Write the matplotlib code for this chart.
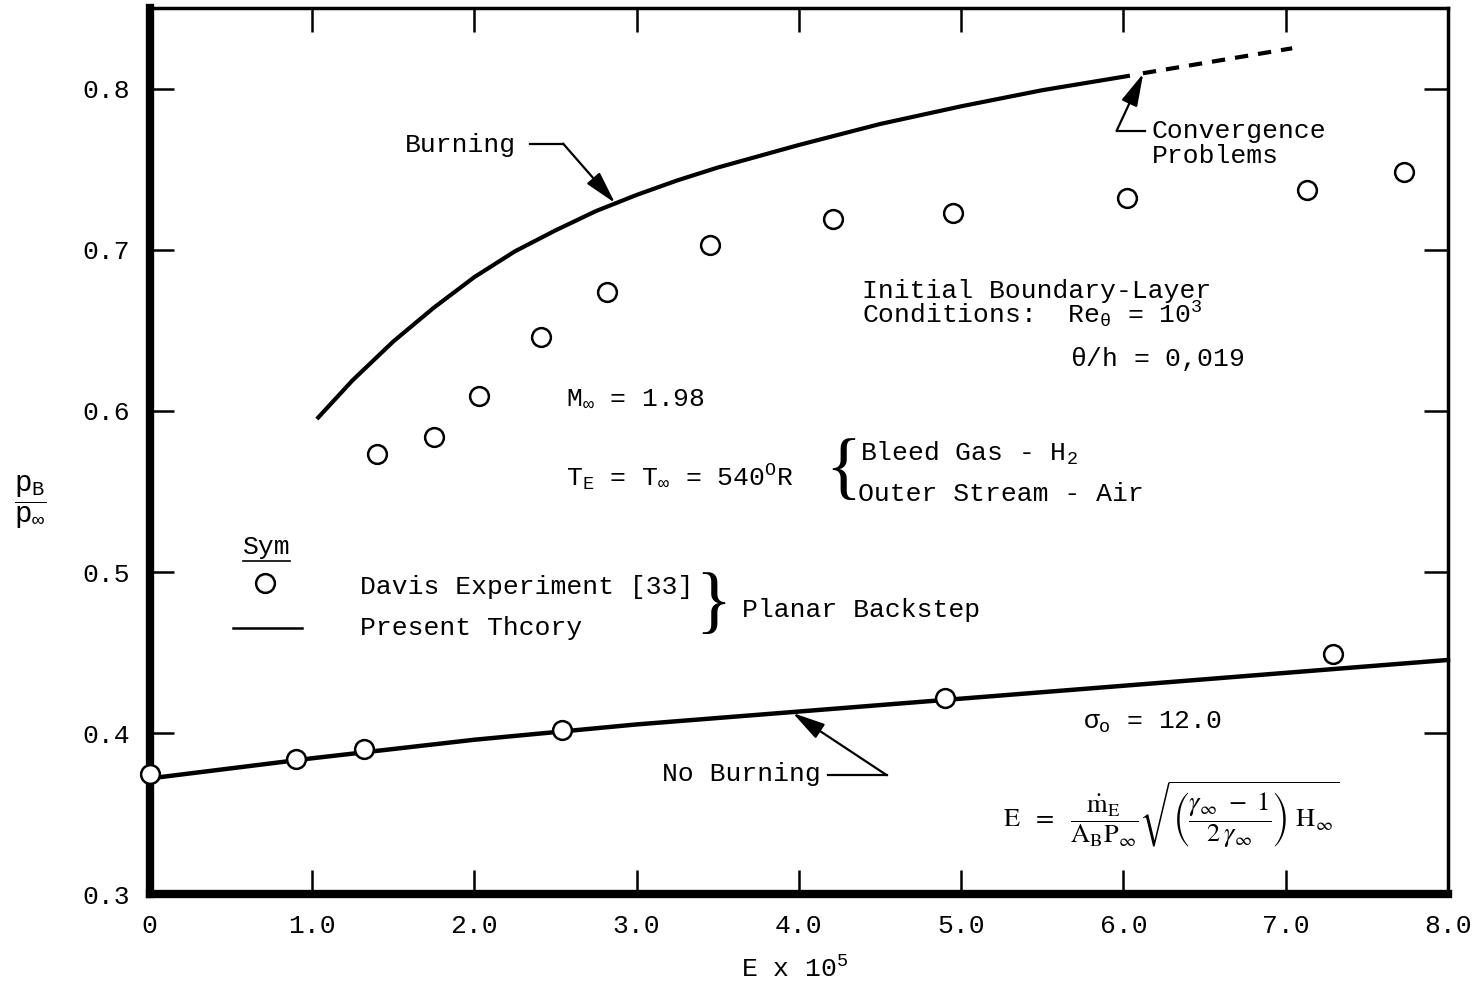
import matplotlib
matplotlib.use("Agg")
import matplotlib.pyplot as plt

# typewriter look everywhere
plt.rcParams['font.family'] = ['Liberation Mono', 'DejaVu Sans Mono']
plt.rcParams['mathtext.fontset'] = 'custom'
plt.rcParams['mathtext.rm'] = 'Liberation Mono'
plt.rcParams['mathtext.it'] = 'Liberation Mono'
plt.rcParams['mathtext.bf'] = 'Liberation Mono:bold'

# ---- data ----
# present theory, burning (solid part, then dashed where convergence failed)
burn_x = [1.03, 1.25, 1.5, 1.75, 2.0, 2.25, 2.5, 2.75, 3.0, 3.25, 3.5, 3.75, 4.0, 4.5, 5.0, 5.5, 6.04]
burn_y = [0.595, 0.619, 0.643, 0.664, 0.683, 0.699, 0.712, 0.724, 0.734, 0.743, 0.751, 0.758,
          0.765, 0.778, 0.789, 0.799, 0.808]
burn_dash_x = [6.12, 7.04]
burn_dash_y = [0.8095, 0.825]

# present theory, no burning
noburn_x = [0, 1, 2, 3, 4, 5, 6, 7, 8]
noburn_y = [0.372, 0.3845, 0.396, 0.4055, 0.4135, 0.4215, 0.4295, 0.4375, 0.4455]

# Davis experiment [33]
exp_burn_x = [1.40, 1.75, 2.03, 2.41, 2.82, 3.45, 4.21, 4.95, 6.02, 7.13, 7.73]
exp_burn_y = [0.573, 0.584, 0.609, 0.646, 0.674, 0.703, 0.719, 0.723, 0.732, 0.737, 0.748]
exp_noburn_x = [0.0, 0.90, 1.32, 2.54, 4.90, 7.29]
exp_noburn_y = [0.375, 0.384, 0.390, 0.402, 0.422, 0.4495]

x_ticks = [0, 1, 2, 3, 4, 5, 6, 7, 8]
x_labels = ['0', '1.0', '2.0', '3.0', '4.0', '5.0', '6.0', '7.0', '8.0']
y_ticks = [0.3, 0.4, 0.5, 0.6, 0.7, 0.8]
y_labels = ['0.3', '0.4', '0.5', '0.6', '0.7', '0.8']

FS = 19

fig = plt.figure(figsize=(14.75, 9.85), dpi=100)
ax = fig.add_axes([0.1015, 0.0919, 0.8802, 0.9000])

ax.plot(burn_x, burn_y, color='k', lw=3.0, solid_capstyle='butt', solid_joinstyle='round')
ax.plot(burn_dash_x, burn_dash_y, color='k', lw=3.0, linestyle=(0, (3.2, 2.4)))
ax.plot(noburn_x, noburn_y, color='k', lw=3.2, clip_on=False)

mk = dict(linestyle='none', marker='o', markersize=13.5, markerfacecolor='white',
          markeredgecolor='k', markeredgewidth=1.8, clip_on=False, zorder=5)
ax.plot(exp_burn_x, exp_burn_y, **mk)
ax.plot(exp_noburn_x, exp_noburn_y, **mk)

ax.set_xlim(0, 8)
ax.set_ylim(0.3, 0.85)
ax.set_xticks(x_ticks)
ax.set_xticklabels(x_labels)
ax.set_yticks(y_ticks)
ax.set_yticklabels(y_labels)
ax.tick_params(direction='in', length=17, width=1.8, top=True, right=True,
               labelsize=FS, pad=14)

ax.spines['left'].set_linewidth(6)
ax.spines['bottom'].set_linewidth(6)
ax.spines['top'].set_linewidth(2.5)
ax.spines['right'].set_linewidth(2.5)

# axis labels
fig.text(0.0203, 0.4904, r'$\dfrac{\mathrm{p}_\mathrm{B}}{\mathrm{p}_\infty}$',
         fontsize=21, ha='center', va='center')
fig.text(0.539, 0.008, r'E x 10$^5$', fontsize=FS, ha='center', va='baseline')

# leader lines with arrowheads
arrow = dict(arrowstyle='-|>,head_length=1.0,head_width=0.26', color='k', lw=1.6,
             mutation_scale=20, shrinkA=0, shrinkB=0)
ax.text(1.573, 0.7604, 'Burning', fontsize=FS, ha='left', va='baseline')
ax.plot([2.343, 2.547], [0.7659, 0.7659], color='k', lw=1.6)
ax.annotate('', xy=(2.867, 0.729), xytext=(2.547, 0.7659), arrowprops=arrow)

ax.text(6.176, 0.7693, 'Convergence', fontsize=FS, ha='left', va='baseline')
ax.text(6.176, 0.7538, 'Problems', fontsize=FS, ha='left', va='baseline')
ax.plot([5.958, 6.133], [0.7738, 0.7738], color='k', lw=1.6)
ax.annotate('', xy=(6.122, 0.8093), xytext=(5.958, 0.7738), arrowprops=arrow)

ax.text(3.156, 0.3703, 'No Burning', fontsize=FS, ha='left', va='baseline')
ax.plot([4.18, 4.542], [0.374, 0.374], color='k', lw=1.6)
ax.annotate('', xy=(3.962, 0.4126), xytext=(4.542, 0.374), arrowprops=arrow)

# conditions
ax.text(4.389, 0.670, 'Initial Boundary-Layer', fontsize=FS, va='baseline')
ax.text(4.389, 0.6539, r'Conditions:  Re$_\theta$ = 10$^3$', fontsize=FS, va='baseline')
ax.text(5.670, 0.628, r'$\theta$/h = 0,019', fontsize=FS, va='baseline')
ax.text(2.565, 0.6037, r'M$_\infty$ = 1.98', fontsize=FS, va='baseline')
ax.text(2.565, 0.5529, r'T$_\mathrm{E}$ = T$_\infty$ = 540$^\mathrm{O}$R', fontsize=FS, va='baseline')
ax.text(4.275, 0.5622, '{', fontsize=54, family='Liberation Serif', ha='center', va='center')
ax.text(4.377, 0.5690, r'Bleed Gas - H$_2$', fontsize=FS, va='baseline')
ax.text(4.364, 0.5442, 'Outer Stream - Air', fontsize=FS, va='baseline')

# symbol key
ax.text(0.575, 0.5115, 'Sym', fontsize=FS, va='baseline')
ax.plot([0.575, 0.864], [0.5071, 0.5071], color='k', lw=1.2)
ax.plot([0.710], [0.4935], **mk)
ax.plot([0.513, 0.939], [0.4656, 0.4656], color='k', lw=1.8)
ax.text(1.296, 0.4867, 'Davis Experiment [33]', fontsize=FS, va='baseline')
ax.text(1.296, 0.4607, 'Present Thcory', fontsize=FS, va='baseline')
ax.text(3.47, 0.4786, '}', fontsize=54, family='Liberation Serif', ha='center', va='center')
ax.text(3.649, 0.4724, 'Planar Backstep', fontsize=FS, va='baseline')

ax.text(5.75, 0.4025, r'$\sigma_\mathrm{o}$ = 12.0', fontsize=FS, va='baseline')
ax.text(5.258, 0.3492,
        r'$\mathrm{E}\ \ =\ \ \dfrac{\dot{\mathrm{m}}_\mathrm{E}}{\mathrm{A_B P_\infty}}'
        r'\sqrt{\left(\dfrac{\gamma_\infty\ -\ 1}{2\,\gamma_\infty}\right)\ \mathrm{H}_\infty}$',
        fontsize=19, math_fontfamily='stix', ha='left', va='center')

fig.savefig('out.png', dpi=100)
